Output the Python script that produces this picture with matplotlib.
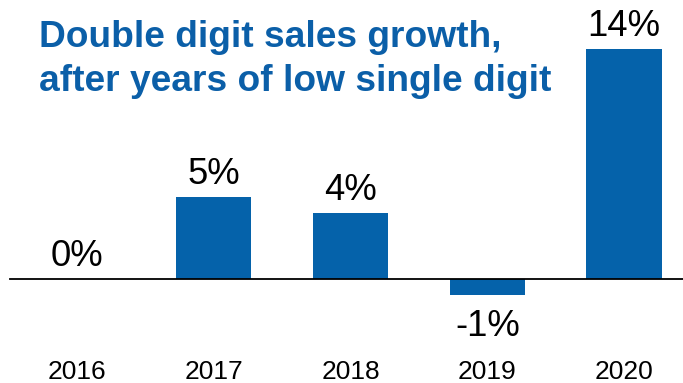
import matplotlib.pyplot as plt

plt.rcParams['font.family'] = ['Liberation Sans', 'DejaVu Sans']

years = ['2016', '2017', '2018', '2019', '2020']
growth = [0, 5, 4, -1, 14]
bar_color = '#0562AA'
title_lines = ['Double digit sales growth,', 'after years of low single digit']

W, H = 683, 383
fig = plt.figure(figsize=(W / 100, H / 100), dpi=100)
ax = fig.add_axes([0, 0, 1, 1])

x = list(range(len(years)))
ax.bar(x, growth, width=0.55, color=bar_color)
ax.axhline(0, xmin=0.015, xmax=1, color='black', lw=1.3)

for xi, v in zip(x, growth):
    if v >= 0:
        ax.text(xi, v + 0.8, f'{v}%', ha='center', va='baseline', fontsize=26.3)
    else:
        ax.text(xi, v - 0.85, f'{v}%', ha='center', va='top', fontsize=26.3)
    ax.text(xi, -6.12, years[xi], ha='center', va='baseline', fontsize=19)

# two-line title, placed by baseline in pixel terms
for line, base in zip(title_lines, [47, 91]):
    fig.text(39 / W, 1 - base / H, line, ha='left', va='baseline',
             fontsize=26.7, fontweight='bold', color='#0B5FA8')

ax.set_xlim(-0.563, 4.431)
ax.set_ylim(-6.34, 17.01)
ax.axis('off')

fig.savefig('out.png', dpi=100)
